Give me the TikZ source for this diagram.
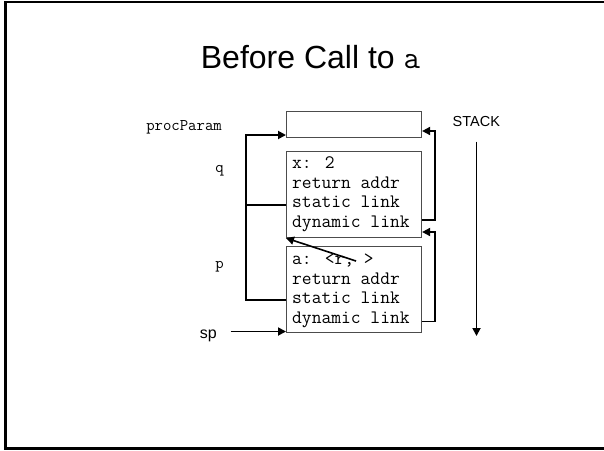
\documentclass[tikz,border=0pt]{standalone}
\usepackage{fontspec}
\setmainfont{Liberation Sans}
\usetikzlibrary{arrows.meta}
\tikzset{
  box/.style={draw=black!70, line width=1.1pt, rectangle, anchor=north west, minimum width=135pt, inner sep=0pt},
  boxtext/.style={anchor=base west, inner sep=0pt, font=\ttfamily\fontsize{19}{19}\selectfont},
  lbl/.style={anchor=base east, inner sep=0pt, font=\ttfamily\fontsize{16.3}{16.3}\selectfont},
  conn/.style={line width=1.8pt, line join=miter},
  arr/.style={conn, -{Triangle[length=8pt,width=8pt]}},
  frame/.style={line width=2.4pt}
}
\begin{document}
\begin{tikzpicture}[x=1pt,y=-1pt]
\useasboundingbox (0,0) rectangle (604,450);
\clip (0,0) rectangle (604,450);
\draw[frame] (620,2) -- (5.5,2) -- (5.5,448.5) -- (620,448.5);

% title
\node[anchor=base, inner sep=0pt, font=\fontsize{32}{32}\selectfont] (title) at (310.5,68) {Before Call to {\ttfamily a}};

% boxes
\node[box, minimum height=26pt] (b1) at (286,111) {};
\node[box, minimum height=86pt] (b2) at (286,151) {};
\node[box, minimum height=86pt] (b3) at (286,246) {};

% box 2 text
\node[boxtext] (b2a) at (292,168) {x: 2};
\node[boxtext] (b2r) at (292,188) {return addr};
\node[boxtext] (b2s) at (292,207.5) {static link};
\node[boxtext] (b2d) at (292,227) {dynamic link};
% box 3 text
\node[boxtext] (b3a) at (292,264.5) {a: <r, >};
\node[boxtext] (b3r) at (292,284) {return addr};
\node[boxtext] (b3s) at (292,303.5) {static link};
\node[boxtext] (b3d) at (292,323) {dynamic link};

% labels
\node[lbl] (lpp) at (222,130) {procParam};
\node[lbl] (lq) at (224,172) {q};
\node[lbl] (lp) at (224,268) {p};
\node[anchor=base east, inner sep=0pt, font=\fontsize{16}{16}\selectfont] (lsp) at (217,338) {sp};
\node[anchor=base west, inner sep=0pt, font=\fontsize{14.5}{14.5}\selectfont] (lstack) at (452.5,126) {STACK};

% coordinates for connectors
\coordinate (spstart) at (230.5,331.5);
\coordinate (sttop) at (476.5,141.5);
\coordinate (stbot) at (476.5,336);
\coordinate (lx) at (246,0);
\coordinate (rx) at (435,0);

% static links
\draw[conn] (b2.west |- 0,205) -- (lx |- 0,205);
\draw[arr] (b3.west |- 0,300) -- (lx |- 0,300) -- (lx |- 0,135) -- (b1.west |- 0,135);

% dynamic links
\draw[arr] (b2.east |- 0,220) -- (rx |- 0,220) -- (rx |- 0,131) -- (b1.east |- 0,131);
\draw[arr] (b3.east |- 0,321.5) -- (rx |- 0,321.5) -- (rx |- 0,232) -- (b2.east |- 0,232);

% procedure parameter pointer
\draw[arr, line width=1.6pt] (356,261) -- (b2.south west);

% sp arrow
\draw[arr] (spstart) -- (b3.west |- spstart);

% stack direction
\draw[arr] (sttop) -- (stbot);
\end{tikzpicture}
\end{document}
